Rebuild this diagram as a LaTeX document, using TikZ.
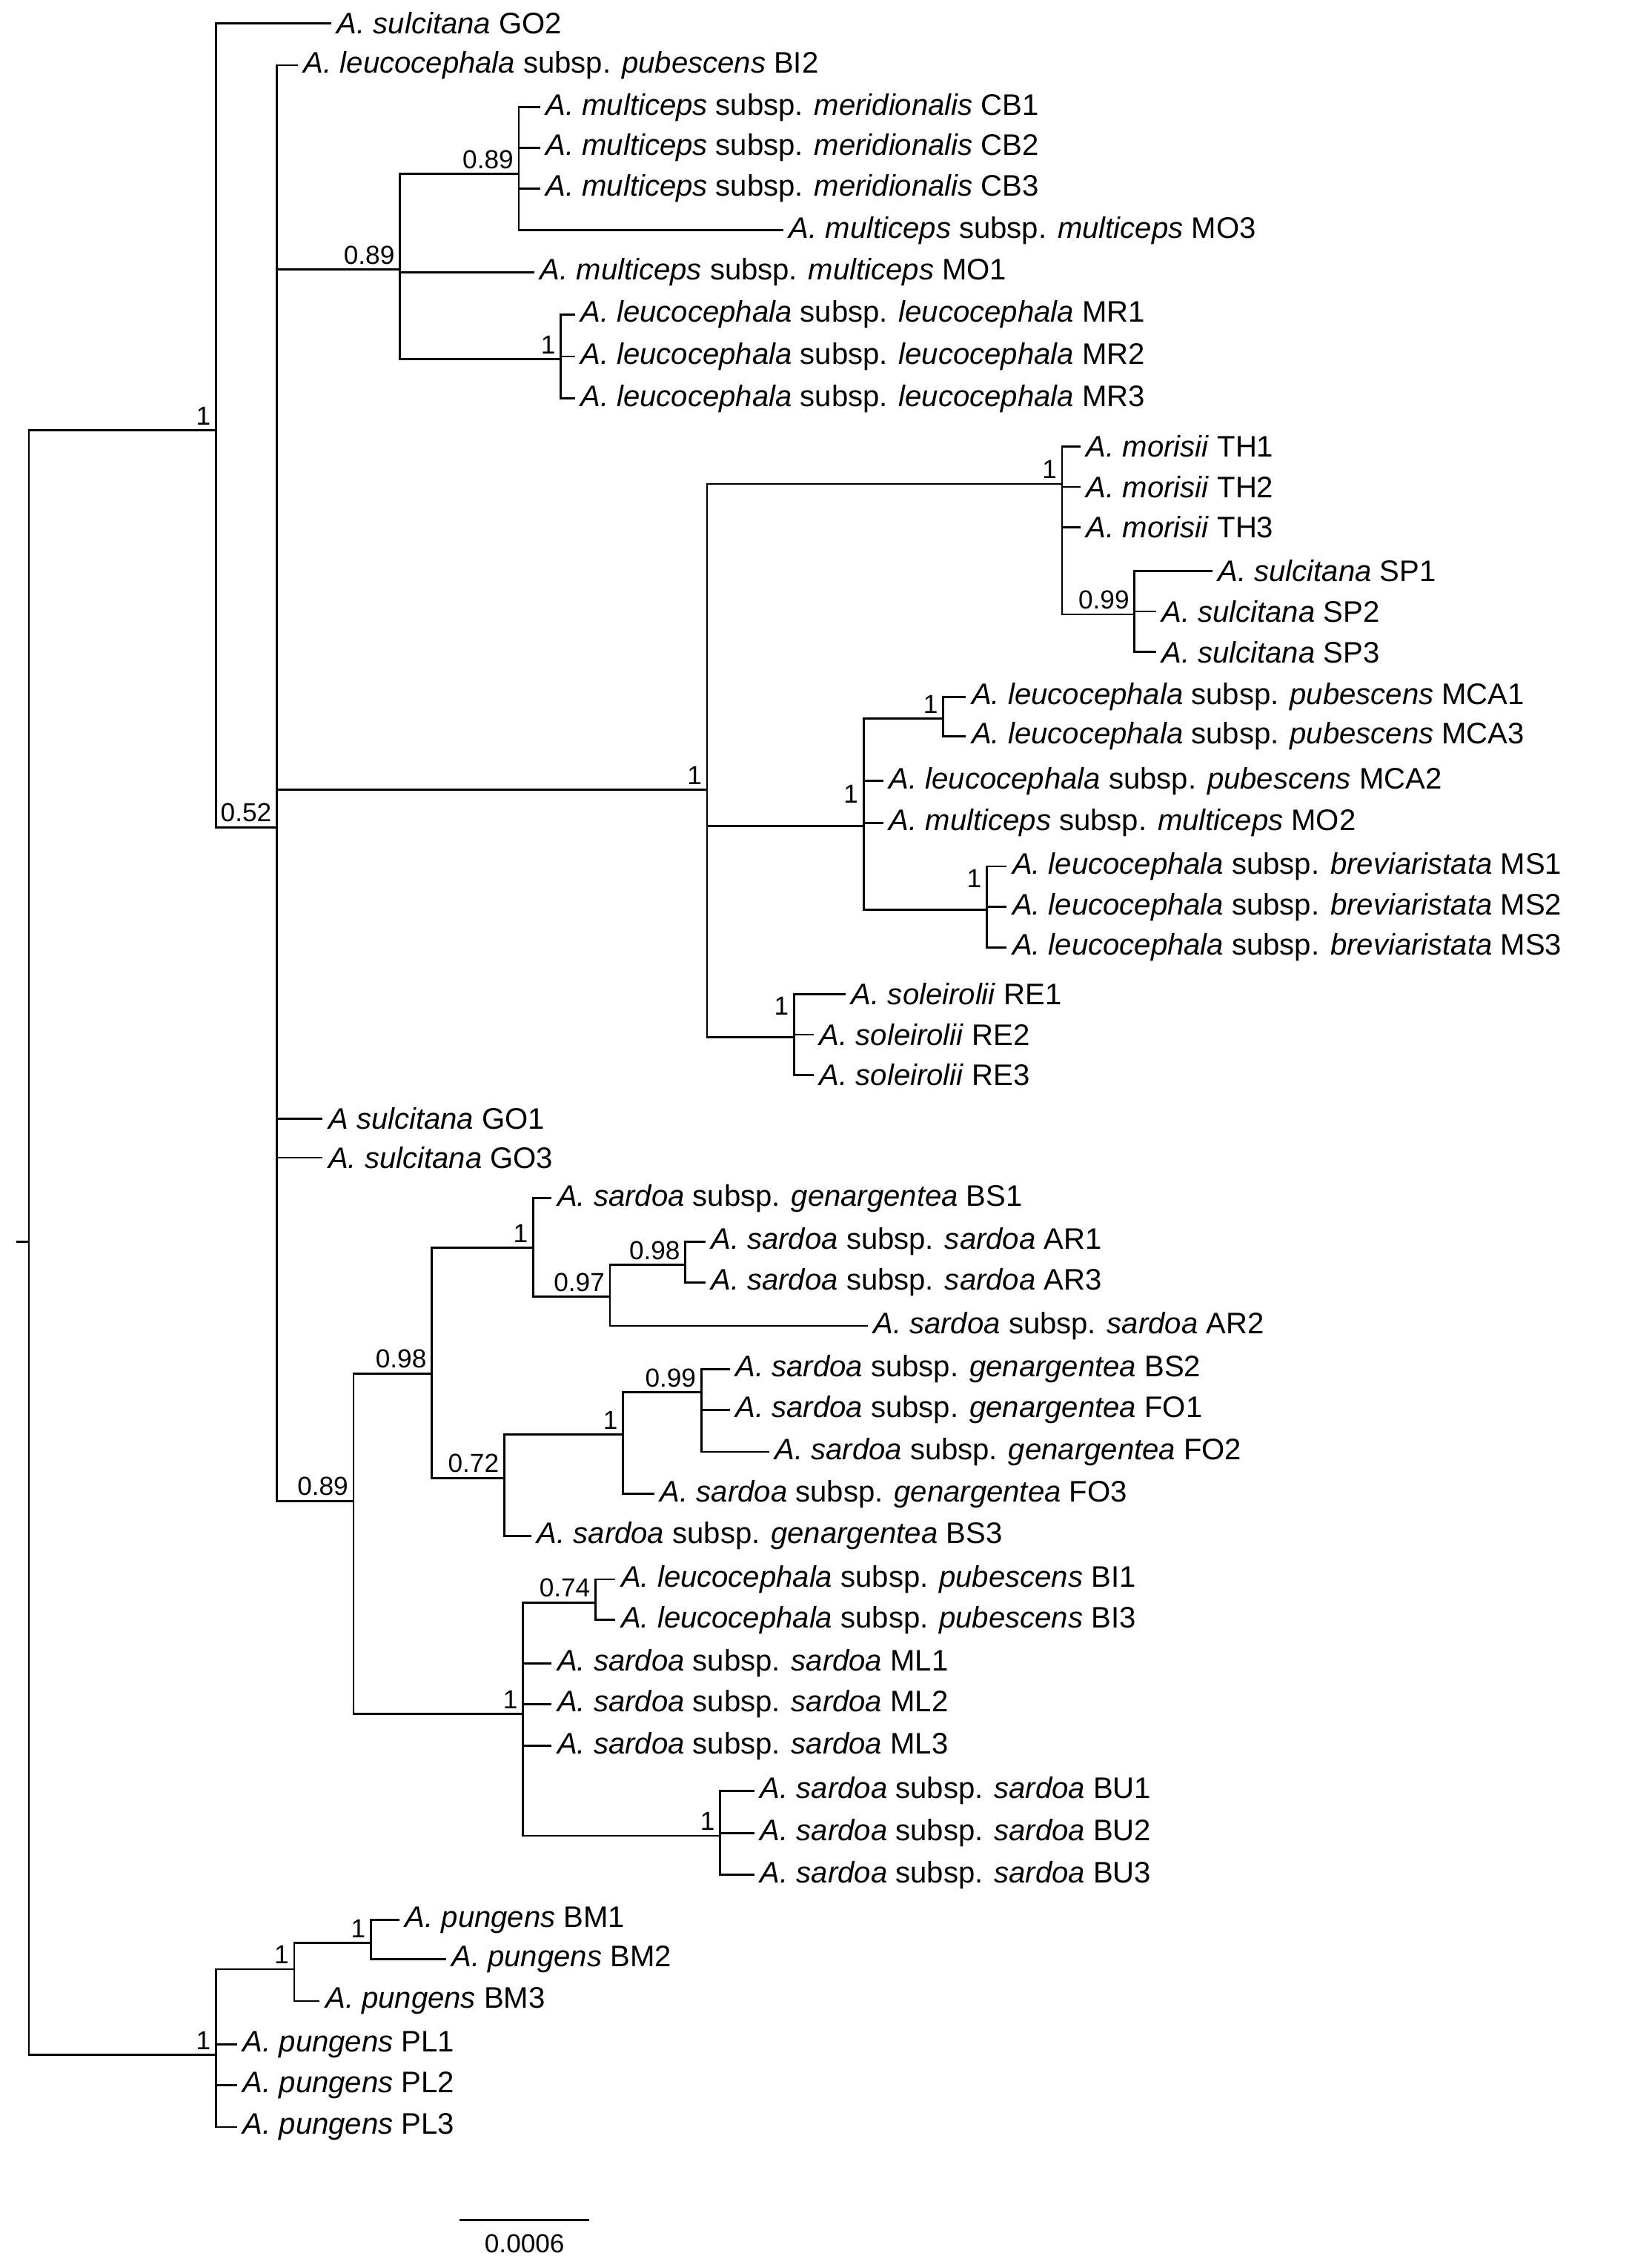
\documentclass[tikz,border=0pt]{standalone}
\usepackage{fontspec}
\setmainfont{Liberation Sans}
\usetikzlibrary{calc}
\newcommand{\tx}[1]{\textit{#1}}
\begin{document}
\begin{tikzpicture}[x=1pt,y=-1pt,line width=1.4pt,line cap=rect,
 leaf/.style={anchor=west,inner xsep=4pt,inner ysep=0pt,font=\fontsize{20.5}{22}\selectfont},
 sup/.style={anchor=south east,inner sep=1pt,font=\fontsize{18}{19}\selectfont}]
\useasboundingbox (0,0) rectangle (1140,1557);
% internal nodes
\coordinate (root) at (20,857);
\coordinate (nA) at (149,297);
\coordinate (nP) at (149,1418);
\coordinate (n52) at (191,571);
\coordinate (n89a) at (276,186);
\coordinate (n89b) at (358,120);
\coordinate (nMR) at (387,248);
\coordinate (nBig) at (488,545);
\coordinate (nTH) at (733,334);
\coordinate (nSP) at (783,424);
\coordinate (nM) at (596,570);
\coordinate (nMCA) at (651,496);
\coordinate (nMS) at (681,628);
\coordinate (nRE) at (548,716);
\coordinate (n89c) at (244,1036);
\coordinate (n98) at (298,948);
\coordinate (nBS1) at (368,861);
\coordinate (n97) at (421,895);
\coordinate (nAR) at (473,873);
\coordinate (n72) at (348,1020);
\coordinate (nFO) at (430,990);
\coordinate (n99) at (484,961);
\coordinate (nML) at (361,1183);
\coordinate (nBI) at (411,1106);
\coordinate (nBU) at (497,1267);
\coordinate (nBM) at (203,1359);
\coordinate (nBM1) at (256,1341);
% leaves
\node[leaf] (GO2) at (228,16) {\tx{A. sulcitana} GO2};
\node[leaf] (BI2) at (205,45) {\tx{A. leucocephala} subsp. \tx{pubescens} BI2};
\node[leaf] (CB1) at (372,74) {\tx{A. multiceps} subsp. \tx{meridionalis} CB1};
\node[leaf] (CB2) at (372,102) {\tx{A. multiceps} subsp. \tx{meridionalis} CB2};
\node[leaf] (CB3) at (372,130) {\tx{A. multiceps} subsp. \tx{meridionalis} CB3};
\node[leaf] (MO3) at (540,159) {\tx{A. multiceps} subsp. \tx{multiceps} MO3};
\node[leaf] (MO1) at (368,188) {\tx{A. multiceps} subsp. \tx{multiceps} MO1};
\node[leaf] (MR1) at (396,217) {\tx{A. leucocephala} subsp. \tx{leucocephala} MR1};
\node[leaf] (MR2) at (396,246) {\tx{A. leucocephala} subsp. \tx{leucocephala} MR2};
\node[leaf] (MR3) at (396,275) {\tx{A. leucocephala} subsp. \tx{leucocephala} MR3};
\node[leaf] (TH1) at (745,308) {\tx{A. morisii} TH1};
\node[leaf] (TH2) at (745,336) {\tx{A. morisii} TH2};
\node[leaf] (TH3) at (745,364) {\tx{A. morisii} TH3};
\node[leaf] (SP1) at (836,394) {\tx{A. sulcitana} SP1};
\node[leaf] (SP2) at (797,422) {\tx{A. sulcitana} SP2};
\node[leaf] (SP3) at (797,450) {\tx{A. sulcitana} SP3};
\node[leaf] (MCA1) at (666,481) {\tx{A. leucocephala} subsp. \tx{pubescens} MCA1};
\node[leaf] (MCA3) at (666,508) {\tx{A. leucocephala} subsp. \tx{pubescens} MCA3};
\node[leaf] (MCA2) at (609,539) {\tx{A. leucocephala} subsp. \tx{pubescens} MCA2};
\node[leaf] (MO2) at (609,568) {\tx{A. multiceps} subsp. \tx{multiceps} MO2};
\node[leaf] (MS1) at (694,598) {\tx{A. leucocephala} subsp. \tx{breviaristata} MS1};
\node[leaf] (MS2) at (694,626) {\tx{A. leucocephala} subsp. \tx{breviaristata} MS2};
\node[leaf] (MS3) at (694,654) {\tx{A. leucocephala} subsp. \tx{breviaristata} MS3};
\node[leaf] (RE1) at (583,686) {\tx{A. soleirolii} RE1};
\node[leaf] (RE2) at (561,714) {\tx{A. soleirolii} RE2};
\node[leaf] (RE3) at (561,742) {\tx{A. soleirolii} RE3};
\node[leaf] (GO1) at (222,772) {\tx{A sulcitana} GO1};
\node[leaf] (GO3) at (222,799) {\tx{A. sulcitana} GO3};
\node[leaf] (BS1) at (380,827) {\tx{A. sardoa} subsp. \tx{genargentea} BS1};
\node[leaf] (AR1) at (486,857) {\tx{A. sardoa} subsp. \tx{sardoa} AR1};
\node[leaf] (AR3) at (486,885) {\tx{A. sardoa} subsp. \tx{sardoa} AR3};
\node[leaf] (AR2) at (598,915) {\tx{A. sardoa} subsp. \tx{sardoa} AR2};
\node[leaf] (BS2) at (503,945) {\tx{A. sardoa} subsp. \tx{genargentea} BS2};
\node[leaf] (FO1) at (503,973) {\tx{A. sardoa} subsp. \tx{genargentea} FO1};
\node[leaf] (FO2) at (530,1002) {\tx{A. sardoa} subsp. \tx{genargentea} FO2};
\node[leaf] (FO3) at (451,1031) {\tx{A. sardoa} subsp. \tx{genargentea} FO3};
\node[leaf] (BS3) at (366,1060) {\tx{A. sardoa} subsp. \tx{genargentea} BS3};
\node[leaf] (BI1) at (424,1090) {\tx{A. leucocephala} subsp. \tx{pubescens} BI1};
\node[leaf] (BI3) at (424,1118) {\tx{A. leucocephala} subsp. \tx{pubescens} BI3};
\node[leaf] (ML1) at (380,1148) {\tx{A. sardoa} subsp. \tx{sardoa} ML1};
\node[leaf] (ML2) at (380,1176) {\tx{A. sardoa} subsp. \tx{sardoa} ML2};
\node[leaf] (ML3) at (380,1205) {\tx{A. sardoa} subsp. \tx{sardoa} ML3};
\node[leaf] (BU1) at (520,1236) {\tx{A. sardoa} subsp. \tx{sardoa} BU1};
\node[leaf] (BU2) at (520,1265) {\tx{A. sardoa} subsp. \tx{sardoa} BU2};
\node[leaf] (BU3) at (520,1294) {\tx{A. sardoa} subsp. \tx{sardoa} BU3};
\node[leaf] (BM1) at (275,1325) {\tx{A. pungens} BM1};
\node[leaf] (BM2) at (307,1352) {\tx{A. pungens} BM2};
\node[leaf] (BM3) at (220,1381) {\tx{A. pungens} BM3};
\node[leaf] (PL1) at (163,1411) {\tx{A. pungens} PL1};
\node[leaf] (PL2) at (163,1439) {\tx{A. pungens} PL2};
\node[leaf] (PL3) at (163,1468) {\tx{A. pungens} PL3};
% edges
\draw (root) -- ++(-8,0);
\draw (root) |- (nA); \draw (root) |- (nP);
\draw (nA) |- (GO2.west); \draw (nA) |- (n52);
\draw (n52) |- (BI2.west); \draw (n52) |- (n89a); \draw (n52) |- (nBig);
\draw (n52) |- (GO1.west); \draw (n52) |- (GO3.west); \draw (n52) |- (n89c);
\draw (n89a) |- (n89b); \draw (n89a) |- (MO1.west); \draw (n89a) |- (nMR);
\foreach \l in {CB1,CB2,CB3,MO3} \draw (n89b) |- (\l.west);
\foreach \l in {MR1,MR2,MR3} \draw (nMR) |- (\l.west);
\draw (nBig) |- (nTH); \draw (nBig) |- (nM); \draw (nBig) |- (nRE);
\foreach \l in {TH1,TH2,TH3} \draw (nTH) |- (\l.west);
\draw (nTH) |- (nSP);
\foreach \l in {SP1,SP2,SP3} \draw (nSP) |- (\l.west);
\draw (nM) |- (nMCA); \draw (nM) |- (MCA2.west); \draw (nM) |- (MO2.west); \draw (nM) |- (nMS);
\foreach \l in {MCA1,MCA3} \draw (nMCA) |- (\l.west);
\foreach \l in {MS1,MS2,MS3} \draw (nMS) |- (\l.west);
\foreach \l in {RE1,RE2,RE3} \draw (nRE) |- (\l.west);
\draw (n89c) |- (n98); \draw (n89c) |- (nML);
\draw (n98) |- (nBS1); \draw (n98) |- (n72);
\draw (nBS1) |- (BS1.west); \draw (nBS1) |- (n97);
\draw (n97) |- (nAR); \draw (n97) |- (AR2.west);
\foreach \l in {AR1,AR3} \draw (nAR) |- (\l.west);
\draw (n72) |- (nFO); \draw (n72) |- (BS3.west);
\draw (nFO) |- (n99); \draw (nFO) |- (FO3.west);
\foreach \l in {BS2,FO1,FO2} \draw (n99) |- (\l.west);
\draw (nML) |- (nBI); \draw (nML) |- (nBU);
\foreach \l in {ML1,ML2,ML3} \draw (nML) |- (\l.west);
\foreach \l in {BI1,BI3} \draw (nBI) |- (\l.west);
\foreach \l in {BU1,BU2,BU3} \draw (nBU) |- (\l.west);
\draw (nP) |- (nBM);
\foreach \l in {PL1,PL2,PL3} \draw (nP) |- (\l.west);
\draw (nBM) |- (nBM1); \draw (nBM) |- (BM3.west);
\foreach \l in {BM1,BM2} \draw (nBM1) |- (\l.west);
% support values
\node[sup] at ($(nA)+(-2,-2)$) {1};
\node[sup] at ($(n52)+(-2,-2)$) {0.52};
\node[sup] at ($(n89a)+(-2,-2)$) {0.89};
\node[sup] at ($(n89b)+(-2,-2)$) {0.89};
\node[sup] at ($(nMR)+(-2,-2)$) {1};
\node[sup] at ($(nBig)+(-2,-2)$) {1};
\node[sup] at ($(nTH)+(-2,-2)$) {1};
\node[sup] at ($(nSP)+(-2,-2)$) {0.99};
\node[sup] at ($(nM)+(-2,-14)$) {1};
\node[sup] at ($(nMCA)+(-2,-2)$) {1};
\node[sup] at ($(nMS)+(-2,-14)$) {1};
\node[sup] at ($(nRE)+(-2,-14)$) {1};
\node[sup] at ($(n89c)+(-2,-2)$) {0.89};
\node[sup] at ($(n98)+(-2,-2)$) {0.98};
\node[sup] at ($(nBS1)+(-2,-2)$) {1};
\node[sup] at ($(n97)+(-2,-2)$) {0.97};
\node[sup] at ($(nAR)+(-2,-2)$) {0.98};
\node[sup] at ($(n72)+(-2,-2)$) {0.72};
\node[sup] at ($(nFO)+(-2,-2)$) {1};
\node[sup] at ($(n99)+(-2,-2)$) {0.99};
\node[sup] at ($(nML)+(-2,-2)$) {1};
\node[sup] at ($(nBI)+(-2,-2)$) {0.74};
\node[sup] at ($(nBU)+(-2,-2)$) {1};
\node[sup] at ($(nP)+(-2,-2)$) {1};
\node[sup] at ($(nBM)+(-2,-2)$) {1};
\node[sup] at ($(nBM1)+(-2,-2)$) {1};
% scale bar
\coordinate (sb1) at (318,1532); \coordinate (sb2) at (406,1532);
\draw (sb1) -- (sb2);
\node[font=\fontsize{18}{19}\selectfont,anchor=north] (sbl) at (362,1538) {0.0006};
\end{tikzpicture}
\end{document}
